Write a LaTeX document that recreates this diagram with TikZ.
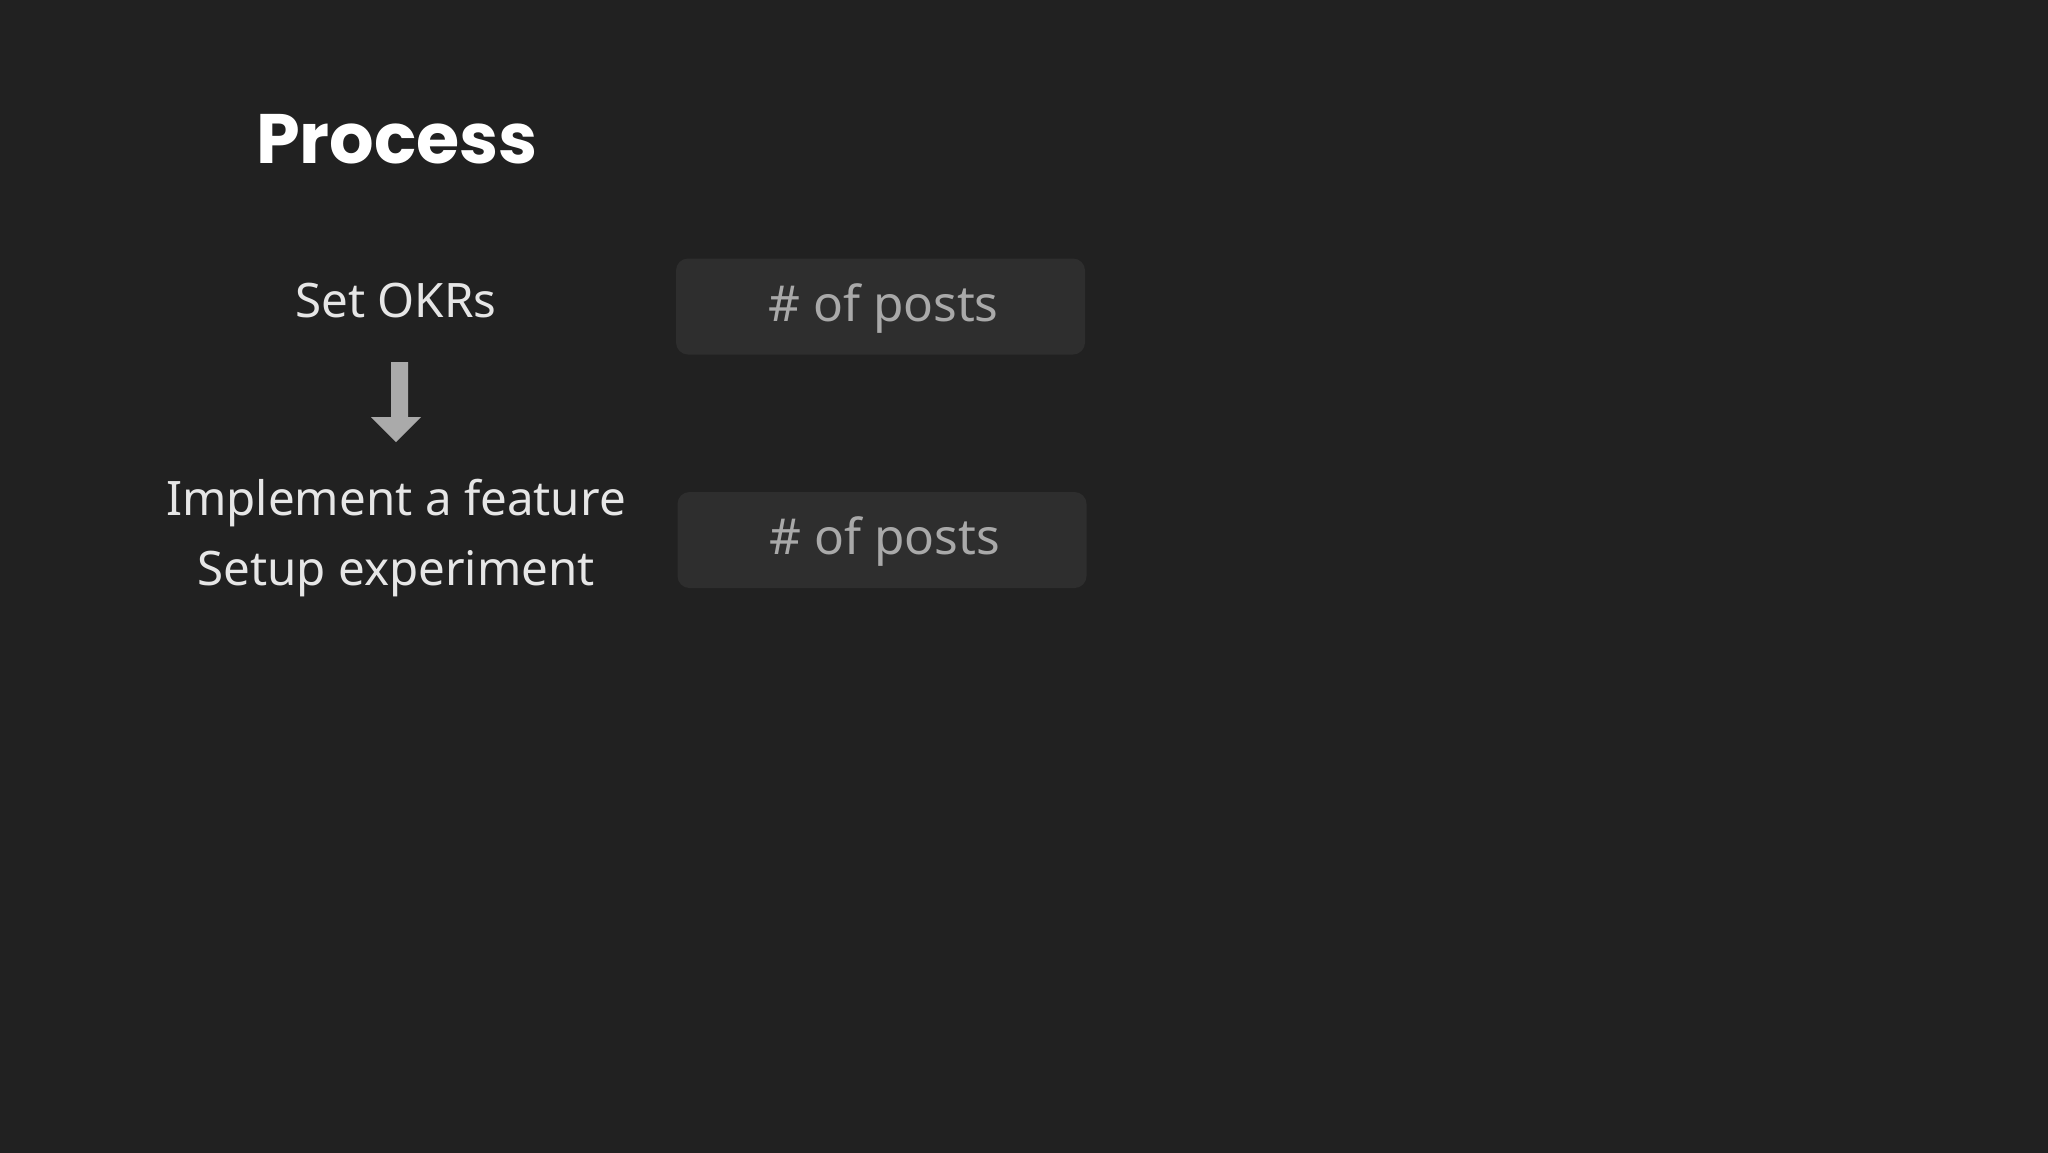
\documentclass[tikz,border=0pt]{standalone}
\usepackage{fontspec}
\setmainfont{Noto Sans}
\newfontfamily\titlefont{Poppins}
\definecolor{bg}{HTML}{212121}
\definecolor{boxfill}{HTML}{2E2E2E}
\definecolor{labeltext}{HTML}{E6E6E6}
\definecolor{boxtext}{HTML}{A9A9A9}
\definecolor{arrowgray}{HTML}{AAAAAA}
\tikzset{
  label/.style={text=labeltext, font=\fontsize{47.5}{58}\selectfont, inner sep=0pt, anchor=base},
  metricbox/.style={fill=boxfill, rounded corners=12pt, minimum width=409pt, minimum height=96pt, inner sep=0pt},
  metrictext/.style={text=boxtext, font=\fontsize{49.5}{60}\selectfont, inner sep=0pt, anchor=base},
}
\begin{document}
\begin{tikzpicture}[x=1pt,y=-1pt]
\useasboundingbox (0,0) rectangle (2048,1152);
\fill[bg] (-5,-5) rectangle (2053,1157);
\node[text=white, font=\titlefont\bfseries\fontsize{70}{80}\selectfont, inner sep=0pt, anchor=base] (title) at (397,163) {Process};
\node[label] (okr) at (396,317) {Set OKRs};
\node[label] (impl) at (396,515) {Implement a feature};
\node[label] (setup) at (396,585) {Setup experiment};
\fill[arrowgray] (391,362) -- (408,362) -- (408,417) -- (421,417) -- (396,442) -- (371,417) -- (391,417) -- cycle;
\node[metricbox] (box1) at (880.5,306.5) {};
\node[metricbox] (box2) at (882,540) {};
\node[metrictext] (m1) at (883.5,321) {\# of posts};
\node[metrictext] (m2) at (885,554) {\# of posts};
\end{tikzpicture}
\end{document}
